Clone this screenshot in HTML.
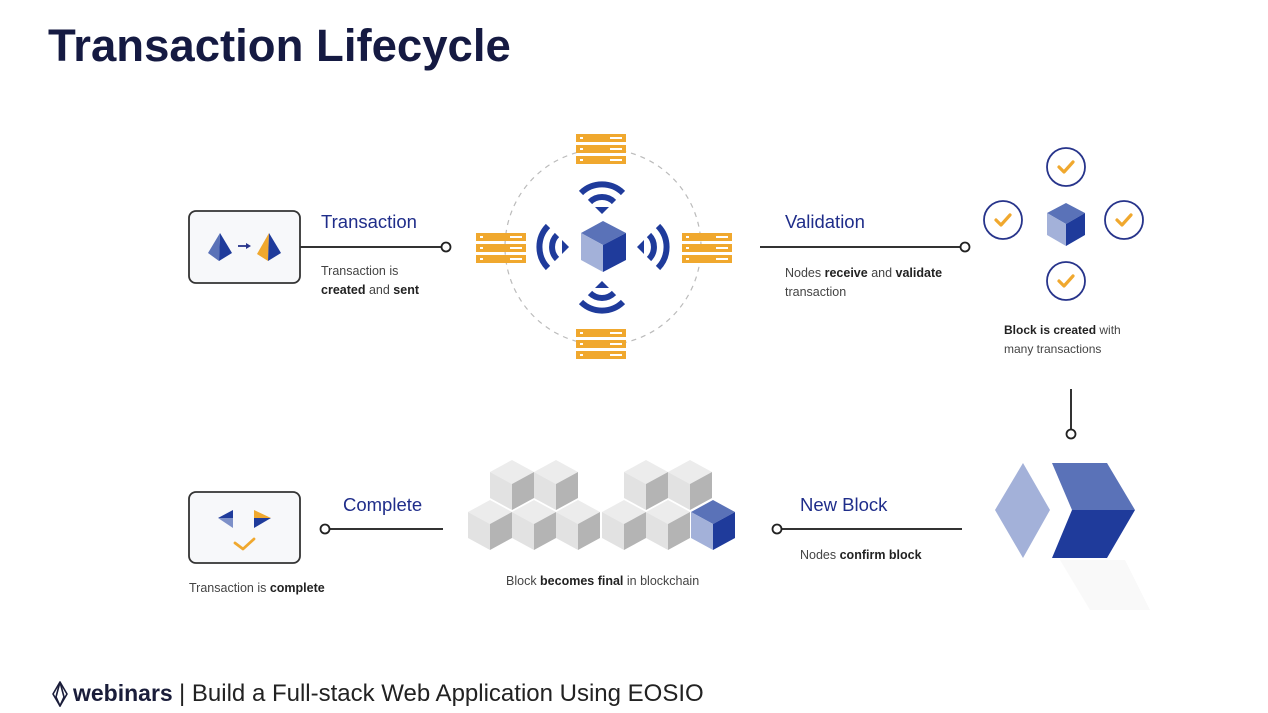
<!DOCTYPE html>
<html><head><meta charset="utf-8"><style>
html,body{margin:0;padding:0;background:#fff;}
svg{display:block}
text{font-family:"Liberation Sans",sans-serif}
</style></head><body>
<svg width="1268" height="713" viewBox="0 0 1268 713" xmlns="http://www.w3.org/2000/svg">
<defs>
<g id="srv">
 <rect x="0" y="0" width="50" height="8" fill="#f0a82e"/>
 <rect x="0" y="11" width="50" height="8" fill="#f0a82e"/>
 <rect x="0" y="22" width="50" height="8" fill="#f0a82e"/>
 <rect x="4" y="3" width="3" height="2" fill="#fff"/><rect x="34" y="3" width="12" height="2" fill="#fff"/>
 <rect x="4" y="14" width="3" height="2" fill="#fff"/><rect x="34" y="14" width="12" height="2" fill="#fff"/>
 <rect x="4" y="25" width="3" height="2" fill="#fff"/><rect x="34" y="25" width="12" height="2" fill="#fff"/>
</g>
<g id="gcube">
 <polygon points="0,-25 22,-13 0,-1 -22,-13" fill="#ececec"/>
 <polygon points="-22,-13 0,-1 0,25 -22,13" fill="#e2e2e2"/>
 <polygon points="22,-13 0,-1 0,25 22,13" fill="#b4b4b4"/>
</g>
<g id="bcube">
 <polygon points="0,-25 22,-13 0,-1 -22,-13" fill="#5a72b8"/>
 <polygon points="-22,-13 0,-1 0,25 -22,13" fill="#a3b1d9"/>
 <polygon points="22,-13 0,-1 0,25 22,13" fill="#1f3b9b"/>
</g>
<g id="chk">
 <circle r="19" fill="#fff" stroke="#27348b" stroke-width="1.8"/>
 <polyline points="-7,0 -2,5 7,-5" fill="none" stroke="#f0a82e" stroke-width="3.2" stroke-linecap="round" stroke-linejoin="round"/>
</g>
<g id="wifi">
 <path d="M-21,-21 A30,30 0 0 1 21,-21" fill="none" stroke="#1f3b9b" stroke-width="6"/>
 <path d="M-12,-12 A17,17 0 0 1 12,-12" fill="none" stroke="#1f3b9b" stroke-width="6"/>
 <polygon points="0,0 -7,-7 7,-7" fill="#1f3b9b"/>
</g>
</defs>

<text x="48" y="61" font-size="45.5" font-weight="bold" fill="#151a42">Transaction Lifecycle</text>

<!-- Top-left box -->
<rect x="189" y="211" width="111" height="72" rx="7" fill="#f7f8fa" stroke="#333" stroke-width="1.8"/>
<polygon points="220,233 208,253 219,261" fill="#5a72b8"/>
<polygon points="220,233 232,253 219,261" fill="#1f3b9b"/>
<line x1="238" y1="246" x2="248" y2="246" stroke="#27348b" stroke-width="1.8"/>
<polygon points="251,246 246,243 246,249" fill="#27348b"/>
<polygon points="269,233 257,254 268,261" fill="#f0a82e"/>
<polygon points="269,233 281,253 268,261" fill="#1f3b9b"/>

<line x1="300" y1="247" x2="441" y2="247" stroke="#333" stroke-width="2"/>
<circle cx="446" cy="247" r="4.5" fill="#fff" stroke="#222" stroke-width="1.8"/>
<text x="321" y="228" font-size="18.5" fill="#1f2d8a">Transaction</text>
<text x="321" y="275" font-size="12.5" fill="#444">Transaction is</text>
<text x="321" y="294" font-size="12.5" fill="#444"><tspan fill="#222" font-weight="bold">created</tspan> and <tspan fill="#222" font-weight="bold">sent</tspan></text>

<!-- network -->
<circle cx="603" cy="247" r="98" fill="none" stroke="#bbb" stroke-width="1.2" stroke-dasharray="5,5"/>
<use href="#srv" x="576" y="134"/>
<use href="#srv" x="476" y="233"/>
<use href="#srv" x="682" y="233"/>
<use href="#srv" x="576" y="329"/>
<use href="#wifi" transform="translate(602,214)"/>
<use href="#wifi" transform="translate(602,281) rotate(180)"/>
<use href="#wifi" transform="translate(569,247) rotate(-90)"/>
<use href="#wifi" transform="translate(637,247) rotate(90)"/>
<polygon points="603,221 626,233 603,245 581,233" fill="#5a72b8"/>
<polygon points="581,233 603,245 603,272 581,260" fill="#a3b1d9"/>
<polygon points="626,233 603,245 603,272 626,260" fill="#1f3b9b"/>

<!-- validation -->
<line x1="760" y1="247" x2="960" y2="247" stroke="#333" stroke-width="2"/>
<circle cx="965" cy="247" r="4.5" fill="#fff" stroke="#222" stroke-width="1.8"/>
<text x="785" y="228" font-size="18.5" fill="#1f2d8a">Validation</text>
<text x="785" y="277" font-size="12.5" fill="#444">Nodes <tspan fill="#222" font-weight="bold">receive</tspan> and <tspan fill="#222" font-weight="bold">validate</tspan></text>
<text x="785" y="296" font-size="12.5" fill="#444">transaction</text>

<use href="#chk" x="1066" y="167"/>
<use href="#chk" x="1003" y="220"/>
<use href="#chk" x="1124" y="220"/>
<use href="#chk" x="1066" y="281"/>
<polygon points="1066,203 1085,213 1066,224 1047,213" fill="#5a72b8"/>
<polygon points="1047,213 1066,224 1066,246 1047,235" fill="#a3b1d9"/>
<polygon points="1085,213 1066,224 1066,246 1085,235" fill="#1f3b9b"/>
<text x="1004" y="334" font-size="12" fill="#444"><tspan fill="#222" font-weight="bold">Block is created</tspan> with</text>
<text x="1004" y="353" font-size="12" fill="#444">many transactions</text>

<line x1="1071" y1="389" x2="1071" y2="429" stroke="#333" stroke-width="2"/>
<circle cx="1071" cy="434" r="4.5" fill="#fff" stroke="#222" stroke-width="1.8"/>

<!-- chevron block -->
<polygon points="1060,560 1125,560 1150,610 1090,610" fill="#f9f9f9"/>
<polygon points="1023,463 1050,510 1023,558 995,510" fill="#a3b1d9"/>
<polygon points="1052,463 1107,463 1135,510 1072,510" fill="#5a72b8"/>
<polygon points="1072,510 1135,510 1107,558 1052,558" fill="#1f3b9b"/>

<!-- new block -->
<line x1="782" y1="529" x2="962" y2="529" stroke="#333" stroke-width="2"/>
<circle cx="777" cy="529" r="4.5" fill="#fff" stroke="#222" stroke-width="1.8"/>
<text x="800" y="511" font-size="18.5" fill="#1f2d8a">New Block</text>
<text x="800" y="559" font-size="12.5" fill="#444">Nodes <tspan fill="#222" font-weight="bold">confirm block</tspan></text>

<!-- blockchain cubes -->
<use href="#gcube" x="512" y="485"/>
<use href="#gcube" x="556" y="485"/>
<use href="#gcube" x="646" y="485"/>
<use href="#gcube" x="690" y="485"/>
<use href="#gcube" x="490" y="525"/>
<use href="#gcube" x="534" y="525"/>
<use href="#gcube" x="578" y="525"/>
<use href="#gcube" x="624" y="525"/>
<use href="#gcube" x="668" y="525"/>
<use href="#bcube" x="713" y="525"/>
<text x="506" y="585" font-size="12.5" fill="#444">Block <tspan fill="#222" font-weight="bold">becomes final</tspan> in blockchain</text>

<!-- complete -->
<line x1="330" y1="529" x2="443" y2="529" stroke="#333" stroke-width="2"/>
<circle cx="325" cy="529" r="4.5" fill="#fff" stroke="#222" stroke-width="1.8"/>
<text x="343" y="511" font-size="18.5" fill="#1f2d8a">Complete</text>

<rect x="189" y="492" width="111" height="71" rx="7" fill="#f7f8fa" stroke="#333" stroke-width="1.8"/>
<polygon points="218,518 233,510 233,518" fill="#1f3b9b"/>
<polygon points="218,518 233,518 233,528" fill="#7d90c8"/>
<polygon points="254,510 271,518 254,518" fill="#f0a82e"/>
<polygon points="254,518 271,518 254,528" fill="#1f3b9b"/>
<polyline points="235,543 243,549 254,539" fill="none" stroke="#f0a82e" stroke-width="2.8" stroke-linecap="round" stroke-linejoin="round"/>
<text x="189" y="592" font-size="12.5" fill="#444">Transaction is <tspan fill="#222" font-weight="bold">complete</tspan></text>

<!-- footer -->
<g fill="none" stroke="#1a1d3a" stroke-width="1.6" stroke-linejoin="round">
 <polygon points="60,682 67,694 60,706 53,694"/>
 <polyline points="60,682 56,697 60,706 64,697 60,682"/>
</g>
<text x="73" y="701" font-size="23" font-weight="bold" fill="#1a1d3a">webinars</text>
<text x="179" y="701" font-size="24" fill="#222">| Build a Full-stack Web Application Using EOSIO</text>
</svg>
</body></html>
